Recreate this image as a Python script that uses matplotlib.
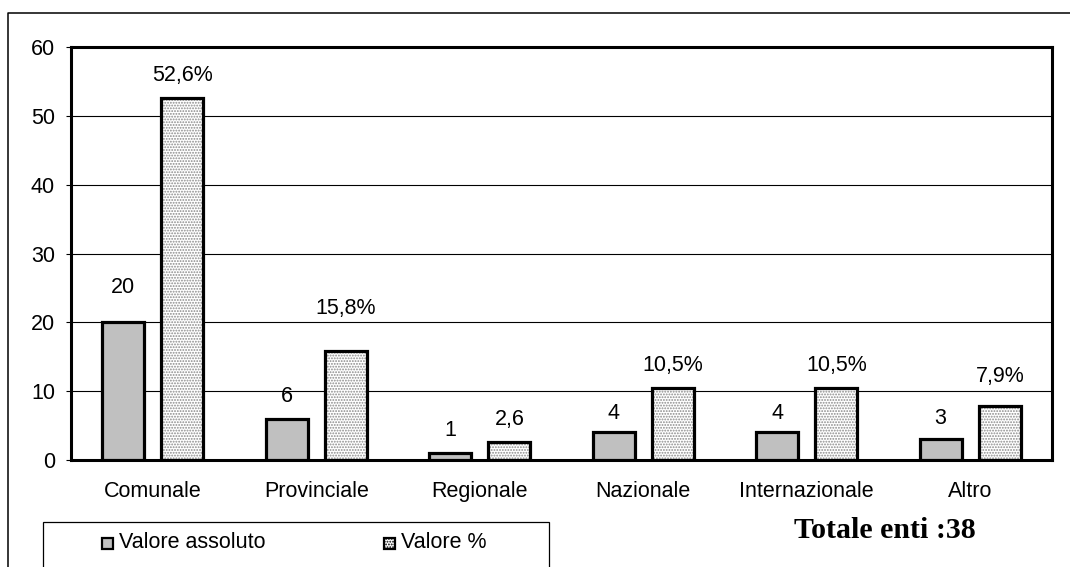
import matplotlib
matplotlib.use("Agg")
import matplotlib.pyplot as plt
import matplotlib.patches as patches
from matplotlib.lines import Line2D
import numpy as np

# ---- data ----
categorie = ["Comunale", "Provinciale", "Regionale", "Nazionale", "Internazionale", "Altro"]
valore_assoluto = [20, 6, 1, 4, 4, 3]
valore_pct = [52.6, 15.8, 2.6, 10.5, 10.5, 7.9]
etichette_pct = ["52,6%", "15,8%", "2,6", "10,5%", "10,5%", "7,9%"]
serie = ["Valore assoluto", "Valore %"]
totale_enti = 38

# label lift above each bar, in points
lift_abs = [25, 16, 16, 14, 14, 15]
lift_pct = [16, 31, 16, 16, 16, 21]

GREY = "#C0C0C0"
FONT = "Liberation Sans"
FS = 15.5

fig = plt.figure(figsize=(10.7, 5.67), dpi=100)
fig.patch.set_facecolor("white")
ax = fig.add_axes([71/1070, 1-460/567, (1052-71)/1070, 413/567])

x = np.arange(len(categorie))
w = 0.257
off = 0.181

ax.bar(x - off, valore_assoluto, w, color=GREY, edgecolor="black", linewidth=2.3, zorder=3)
# dotted fill first, black outline on top
plt.rcParams["hatch.linewidth"] = 0.9
ax.bar(x + off, valore_pct, w, color="white", edgecolor="#8a8a8a", hatch="......",
       linewidth=0, zorder=3)
ax.bar(x + off, valore_pct, w, fill=False, edgecolor="black", linewidth=2.3, zorder=4)

for i in range(len(categorie)):
    ax.annotate(str(valore_assoluto[i]), (x[i] - off, valore_assoluto[i]),
                xytext=(0, lift_abs[i]), textcoords="offset points",
                ha="center", va="center", fontsize=FS, family=FONT)
    ax.annotate(etichette_pct[i], (x[i] + off, valore_pct[i]),
                xytext=(0, lift_pct[i]), textcoords="offset points",
                ha="center", va="center", fontsize=FS, family=FONT)

ax.set_xlim(-0.5, len(categorie) - 0.5)
ax.set_ylim(0, 60)
ax.set_yticks(range(0, 61, 10))
ax.yaxis.grid(True, color="black", linewidth=0.8)
ax.set_axisbelow(True)
ax.set_xticks(x)
ax.set_xticklabels(categorie, family=FONT, fontsize=FS)
ax.tick_params(axis="x", length=0, pad=15)
ax.tick_params(axis="y", length=3.5, width=0.8, pad=8, direction="out")
for lab in ax.get_yticklabels():
    lab.set_family(FONT)
    lab.set_fontsize(FS)
for s in ax.spines.values():
    s.set_linewidth(2.2)
    s.set_color("black")

# outer chart frame (left and top edges)
fx = 8/1070
fy = 1 - 13/567
fig.add_artist(Line2D([fx, fx, 1.0], [0.0, fy, fy], color="black", linewidth=1.1,
                      transform=fig.transFigure))

# legend box, cut off at the bottom
lx0, lx1 = 43/1070, 549/1070
ly = 1 - 522/567
fig.add_artist(patches.Rectangle((lx0, -0.05), lx1 - lx0, ly + 0.05, fill=False,
                                 edgecolor="black", linewidth=0.9,
                                 transform=fig.transFigure))
ty = 1 - 543/567
sq_w, sq_h = 11/1070, 11/567
for sx, nome, kw in [(102/1070, serie[0], dict(facecolor=GREY)),
                     (384/1070, serie[1], dict(facecolor="white", hatch="......"))]:
    fig.add_artist(patches.Rectangle((sx, ty - sq_h/2), sq_w, sq_h, edgecolor="black",
                                     linewidth=1.6, transform=fig.transFigure, **kw))
    fig.text(sx + 17/1070, ty, nome, ha="left", va="center", fontsize=FS, family=FONT)

fig.text(885/1070, 1 - 530/567, f"Totale enti :{totale_enti}", ha="center", va="center",
         fontsize=21.5, fontweight="bold", family="Liberation Serif")

fig.savefig("out.png", dpi=100, facecolor="white")
